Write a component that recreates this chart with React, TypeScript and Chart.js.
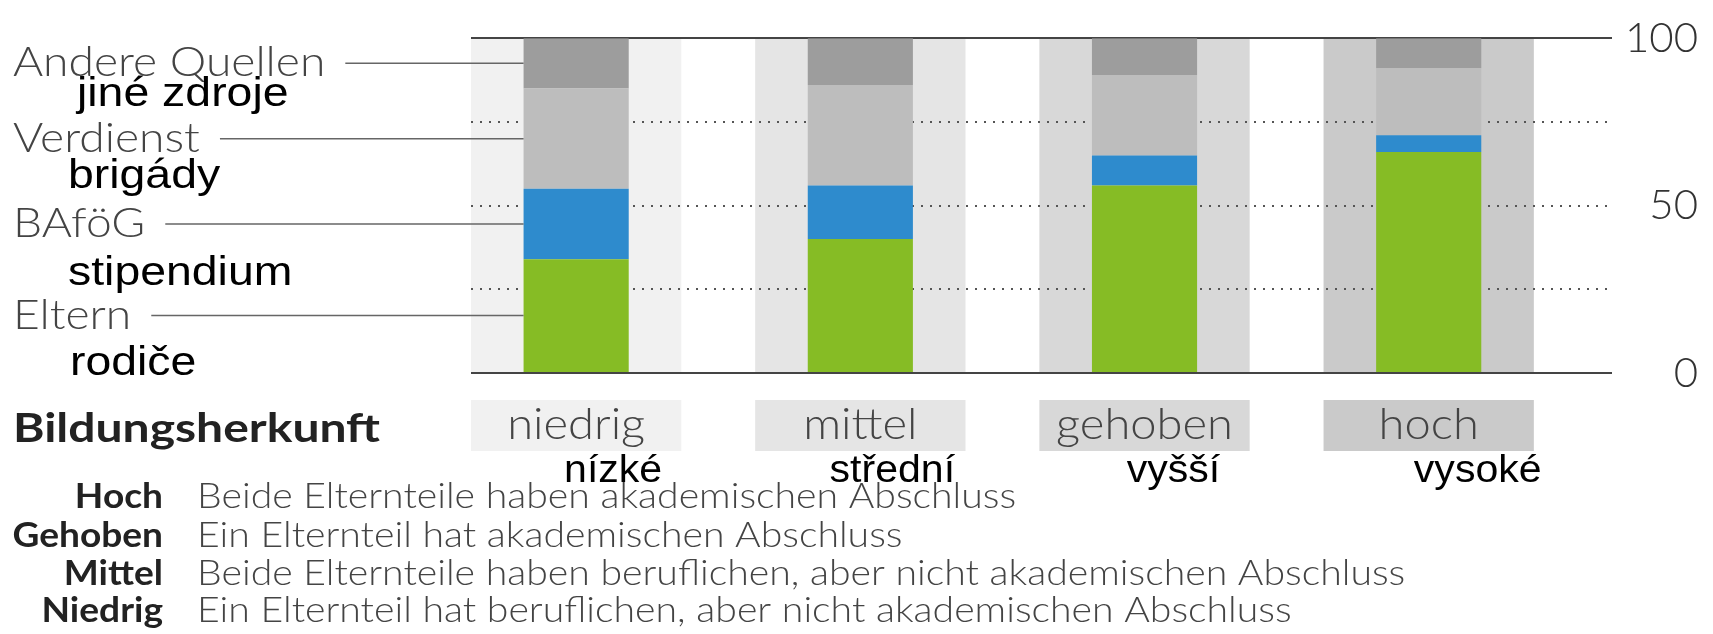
import React, { useEffect, useRef } from 'react';
import { Chart, registerables } from 'chart.js';

Chart.register(...registerables);

// ---------- data ----------
const categories = ['niedrig', 'mittel', 'gehoben', 'hoch'];
const categoriesCz = ['nízké', 'střední', 'vyšší', 'vysoké'];
const seriesNames = ['Eltern', 'BAföG', 'Verdienst', 'Andere Quellen'];
const seriesNamesCz = ['rodiče', 'stipendium', 'brigády', 'jiné zdroje'];
const eltern = [34, 40, 56, 66];
const bafoeg = [21, 16, 9, 5];
const verdienst = [30, 30, 24, 20];
const andere = [15, 14, 11, 9];
const yTickLabels = [0, 50, 100];
const yGridValues = [0, 25, 50, 75, 100];
const axisTitle = 'Bildungsherkunft';
const legendKeys = ['Hoch', 'Gehoben', 'Mittel', 'Niedrig'];
const legendTexts = [
  'Beide Elternteile haben akademischen Abschluss',
  'Ein Elternteil hat akademischen Abschluss',
  'Beide Elternteile haben beruflichen, aber nicht akademischen Abschluss',
  'Ein Elternteil hat beruflichen, aber nicht akademischen Abschluss',
];

// ---------- styles / layout ----------
const W = 1713;
const H = 634;
const seriesColors = ['#86bc25', '#2e8bcd', '#bdbdbd', '#9d9d9d'];
const stripeColors = ['#f1f1f1', '#e5e5e5', '#d8d8d8', '#cacaca'];
const STRIPE_PCT = 0.74;
const BAR_PCT = 0.37;
const TEXT_GRAY = '#444444';
const CZ_FONT = '"Liberation Sans", Arial, sans-serif';
const WIDE = 1.1;
const czSeriesPos = [
  { x: 70, y: 375 },
  { x: 68, y: 285 },
  { x: 68, y: 188 },
  { x: 77, y: 106 },
];
const czCatOffsets = [37, 32, 29, 49];
const legendBaselines = [508, 547, 585, 622];

const seriesValues = [eltern, bafoeg, verdienst, andere];

function drawText(
  ctx: CanvasRenderingContext2D,
  text: string,
  x: number,
  y: number,
  font: string,
  color: string,
  align: CanvasTextAlign = 'left',
  sx = 1
) {
  ctx.save();
  ctx.translate(x, y);
  ctx.scale(sx, 1);
  ctx.font = font;
  ctx.fillStyle = color;
  ctx.textAlign = align;
  ctx.textBaseline = 'alphabetic';
  ctx.fillText(text, 0, 0);
  ctx.restore();
}

const decorPlugin = {
  id: 'decor',
  beforeDraw(chart: any) {
    const { ctx, scales } = chart;
    const x = scales.x;
    const y = scales.y;
    const slot = x.getPixelForValue(1) - x.getPixelForValue(0);
    const sw = slot * STRIPE_PCT;
    const top = y.getPixelForValue(100);
    const bottom = y.getPixelForValue(0);
    ctx.save();
    categories.forEach((_, i) => {
      const cx = x.getPixelForValue(i);
      ctx.fillStyle = stripeColors[i];
      ctx.fillRect(cx - sw / 2, top, sw, bottom - top);
      ctx.fillRect(cx - sw / 2, 400, sw, 51);
    });
    ctx.restore();
  },
  afterDraw(chart: any) {
    const { ctx, scales } = chart;
    const x = scales.x;
    // left series labels + connectors
    seriesNames.forEach((name, d) => {
      const meta = chart.getDatasetMeta(d);
      const el: any = meta.data[0];
      const lineY = (el.y + el.base) / 2;
      const leftEdge = el.x - el.width / 2;
      const font = '300 42px Lato';
      ctx.save();
      ctx.font = font;
      const tw = ctx.measureText(name).width * WIDE;
      ctx.restore();
      drawText(ctx, name, 13, lineY + 13, font, TEXT_GRAY, 'left', WIDE);
      ctx.save();
      ctx.strokeStyle = '#666666';
      ctx.lineWidth = 1.5;
      ctx.beginPath();
      ctx.moveTo(13 + tw + 20, lineY);
      ctx.lineTo(leftEdge, lineY);
      ctx.stroke();
      ctx.restore();
      const p = czSeriesPos[d];
      drawText(ctx, seriesNamesCz[d], p.x, p.y, `400 40px ${CZ_FONT}`, '#000', 'left', 1.16);
    });
    // category labels
    categories.forEach((c, i) => {
      const cx = x.getPixelForValue(i);
      drawText(ctx, c, cx, 439, '300 44px Lato', TEXT_GRAY, 'center', 1.07);
      drawText(ctx, categoriesCz[i], cx + czCatOffsets[i], 482, `400 38px ${CZ_FONT}`, '#000', 'center', 1.08);
    });
    // title + legend
    drawText(ctx, axisTitle, 13, 442, '700 40px Lato', '#222222', 'left', 1.2);
    legendKeys.forEach((k, i) => {
      drawText(ctx, k, 163, legendBaselines[i], '700 35px Lato', '#222222', 'right', 1.06);
      drawText(ctx, legendTexts[i], 197, legendBaselines[i], '300 35px Lato', TEXT_GRAY, 'left', 1.12);
    });
  },
};

export default function App() {
  const ref = useRef<HTMLCanvasElement | null>(null);

  useEffect(() => {
    document.body.style.margin = '0';
    const canvas = ref.current;
    if (!canvas) return;
    const chart = new Chart(canvas, {
      type: 'bar',
      data: {
        labels: categories,
        datasets: seriesNames.map((name, d) => ({
          label: name,
          data: categories.map((_, i) => ({ x: i, y: seriesValues[d][i] })),
          backgroundColor: seriesColors[d],
          borderWidth: 0,
          barPercentage: BAR_PCT,
          categoryPercentage: 1,
        })),
      },
      options: {
        animation: false,
        responsive: false,
        devicePixelRatio: 1,
        layout: { padding: { left: 471, top: 30, right: 15, bottom: H - 373 } },
        plugins: { legend: { display: false }, tooltip: { enabled: false } },
        scales: {
          x: {
            type: 'linear',
            min: -0.37,
            max: 3.645,
            bounds: 'data',
            offset: false,
            stacked: true,
            display: false,
            grid: { offset: false },
            afterBuildTicks: (s: any) => {
              s.ticks = categories.map((_, i) => ({ value: i }));
            },
          },
          y: {
            position: 'right',
            min: 0,
            max: 100,
            stacked: true,
            afterBuildTicks: (s: any) => {
              s.ticks = yTickLabels.map((v) => ({ value: v }));
            },
            afterFit: (s: any) => {
              s.width = 86;
            },
            ticks: {
              font: { family: 'Lato', size: 42, weight: 300 },
              color: '#333333',
              padding: 13,
              crossAlign: 'far',
            },
            grid: {
              color: (c: any) => (c.tick && c.tick.value === 50 ? 'rgba(0,0,0,0)' : '#444444'),
              lineWidth: 2,
              drawTicks: false,
            },
            border: { display: false },
          },
          y2: {
            position: 'right',
            min: 0,
            max: 100,
            afterBuildTicks: (s: any) => {
              s.ticks = yGridValues.map((v) => ({ value: v }));
            },
            afterFit: (s: any) => {
              s.width = 0;
            },
            ticks: { display: false },
            grid: {
              color: (c: any) =>
                c.tick && (c.tick.value === 0 || c.tick.value === 100) ? 'rgba(0,0,0,0)' : '#555555',
              lineWidth: 2,
              drawTicks: false,
            },
            border: { display: false, dash: [2, 7] },
          },
        },
      } as any,
      plugins: [decorPlugin],
    });
    return () => chart.destroy();
  }, []);

  return (
    <div style={{ position: 'fixed', left: 0, top: 0, width: W, height: H, background: '#fff' }}>
      <canvas ref={ref} width={W} height={H} style={{ width: W, height: H, display: 'block' }} />
    </div>
  );
}
